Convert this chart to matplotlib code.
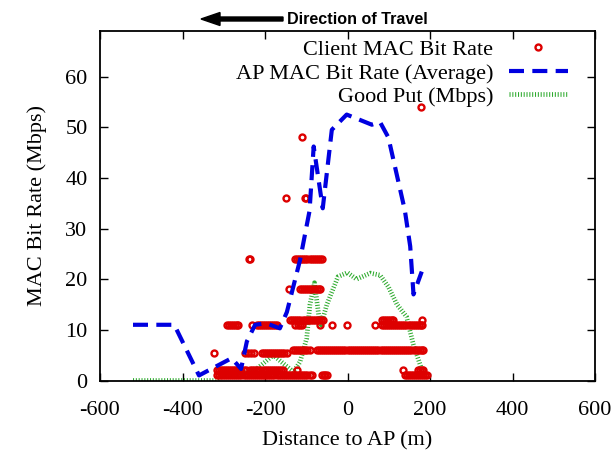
import matplotlib
matplotlib.use("Agg")
import matplotlib.pyplot as plt

# ---------------- data ----------------
# AP MAC Bit Rate (Average)
ap_x = [-520, -420, -360, -281, -258, -244, -224, -197, -164, -147, -115, -92, -82,
        -60, -38, -2, 59, 79, 99, 139, 152, 160, 180]
ap_y = [11, 11, 1.0, 4.4, 2.3, 7.7, 11, 11.3, 10.3, 13.5, 23.8, 33.5, 46.2,
        34, 49.5, 52.5, 50.5, 51, 48, 33.6, 26.5, 17, 21.5]

# Good Put (Mbps)
gp_x = [-520, -320, -305, -275, -229, -180, -131, -115, -99, -91, -80, -70, -64, -50,
        -23, 0, 22, 55, 79, 99, 120, 143, 160, 182]
gp_y = [0, 0, 0.8, 1.2, 1.7, 5.0, 1.7, 3.7, 8.3, 15, 19.3, 13, 11, 15,
        20.5, 21.3, 20, 21.2, 20.8, 18.5, 15, 12.6, 7, 1.7]

# Client MAC Bit Rate samples, grouped by rate level (Mbps)
rate_1_x = [-317, -312, -307, -302, -297, -292, -287, -282, -277, -272, -267, -262,
            -257, -252, -247, -242, -237, -232, -227, -222, -217, -212, -207, -202,
            -197, -192, -187, -182, -177, -172, -167, -162, -157, -152, -147, -142,
            -137, -132, -127, -122, -117, -112, -107, -102, -97, -92, -87,
            -63, -58, -54, -50,
            139, 144, 149, 154, 159, 164, 169, 174, 179, 184, 188, 192]
rate_2_x = [-317, -312, -307, -302, -297, -292, -287, -282, -277, -272, -267, -262,
            -257, -252, -247, -236, -231, -226, -221, -216, -211, -206, -201, -196,
            -191, -186, -181, -176, -171, -166, -161, -156,
            -123, 135, 171, 176, 180, 184]
rate_5_5_x = [-324, -248, -241, -234, -227, -208, -203, -198, -193, -188, -183, -178,
              -173, -168, -163, -158, -153, -147]
rate_6_x = [-132, -127, -122, -117, -112, -107, -102, -97, -91,
            -75, -70, -65, -60, -55, -50, -45, -40, -35, -30, -25, -20, -15, -10, -5,
            0, 5, 10, 15, 20, 25, 30, 35, 40, 45, 50, 55, 60, 65, 70, 75, 80, 85, 90,
            95, 100, 105, 110, 115, 120, 125, 130, 135, 140, 145, 150, 155, 160, 165,
            170, 175, 180, 184]
rate_11_x = [-293, -288, -283, -278, -273, -268, -265, -232, -220, -215, -210, -205,
             -200, -195, -190, -185, -180, -175, -170, -127, -121, -115, -110,
             -67, -37, -2, 67,
             83, 88, 93, 98, 103, 108, 113, 118, 123, 128, 133, 138, 143, 148, 153,
             158, 163, 168, 173, 177, 180]
rate_12_x = [-139, -134, -129, -124, -119, -114, -109, -104, -99, -94, -89, -84, -79,
             -74, -69, -64, -59,
             83, 88, 93, 98, 103, 108, 111, 180]
rate_18_x = [-141, -115, -110, -105, -100, -95, -90, -85, -80, -75, -70, -67]
rate_24_x = [-240, -236, -127, -122, -117, -112, -107, -102, -97, -92, -87, -82, -77,
             -72, -67, -63]
rate_36_x = [-149, -104, -101]
rate_48_x = [-110]
rate_54_x = [178]

client_levels = [1, 2, 5.5, 6, 11, 12, 18, 24, 36, 48, 54]
client_groups = [rate_1_x, rate_2_x, rate_5_5_x, rate_6_x, rate_11_x, rate_12_x,
                 rate_18_x, rate_24_x, rate_36_x, rate_48_x, rate_54_x]

x_ticks = [-600, -400, -200, 0, 200, 400, 600]
y_ticks = [0, 10, 20, 30, 40, 50, 60]

# ---------------- style ----------------
RED = "#dd0000"
BLUE = "#0000e0"
GREEN = "#2eaa2e"
SERIF = ["Liberation Serif", "DejaVu Serif"]
FS = 16

plt.rcParams["font.family"] = SERIF

fig = plt.figure(figsize=(6.16, 4.5), dpi=100)
ax = fig.add_axes([100 / 616, 1 - 380.5 / 450, 495 / 616, 349.5 / 450])

cx, cy = [], []
for lvl, xs in zip(client_levels, client_groups):
    cx.extend(xs)
    cy.extend([lvl] * len(xs))

ax.plot(cx, cy, ls="none", marker="o", mfc="none", mec=RED, ms=4.3, mew=1.7,
        label="Client MAC Bit Rate", zorder=3)
ax.plot(ap_x, ap_y, color=BLUE, lw=3.0, ls=(0, (3.6, 2.0)),
        dash_capstyle="butt", label="AP MAC Bit Rate (Average)", zorder=4)
ax.plot(gp_x, gp_y, color=GREEN, lw=3.4, ls=(0, (0.22, 0.38)),
        dash_capstyle="butt", label="Good Put (Mbps)", zorder=2)

ax.set_xlim(-600, 600)
ax.set_ylim(0, 69)
ax.set_xticks(x_ticks)
ax.set_yticks(y_ticks)
ax.set_xticklabels([str(v) for v in x_ticks])
ax.set_yticklabels([str(v) for v in y_ticks])
ax.tick_params(direction="in", length=6, width=1, top=True, right=True,
               labelsize=FS)
ax.tick_params(axis="x", pad=15)
ax.tick_params(axis="y", pad=9)
for s in ax.spines.values():
    s.set_linewidth(1.3)

ax.set_xlabel("Distance to AP (m)", fontsize=FS)
ax.set_ylabel("MAC Bit Rate (Mbps)", fontsize=FS)
ax.xaxis.set_label_coords(0.5, -0.172)
ax.xaxis.label.set_va("center")
ax.yaxis.set_label_coords(-0.128, 0.5)
ax.yaxis.label.set_va("center")

leg = ax.legend(loc="upper right", bbox_to_anchor=(0.967, 1.008), frameon=False,
                markerfirst=False, fontsize=FS, handlelength=2.65,
                handletextpad=0.7, labelspacing=0.14, borderpad=0,
                numpoints=1)

# Direction of travel annotation (figure coordinates)
fig.patches.append(matplotlib.patches.FancyArrow(
    283 / 616, 1 - 19 / 450, -63 / 616, 0, width=4 / 450,
    head_width=13 / 450, head_length=19 / 616, length_includes_head=False,
    color="black", transform=fig.transFigure, figure=fig))
fig.text(287 / 616, 1 - 19 / 450, "Direction of Travel", fontsize=11.6,
         fontweight="bold", family=["Liberation Sans", "DejaVu Sans"],
         ha="left", va="center")

fig.savefig("out.png", dpi=100)
